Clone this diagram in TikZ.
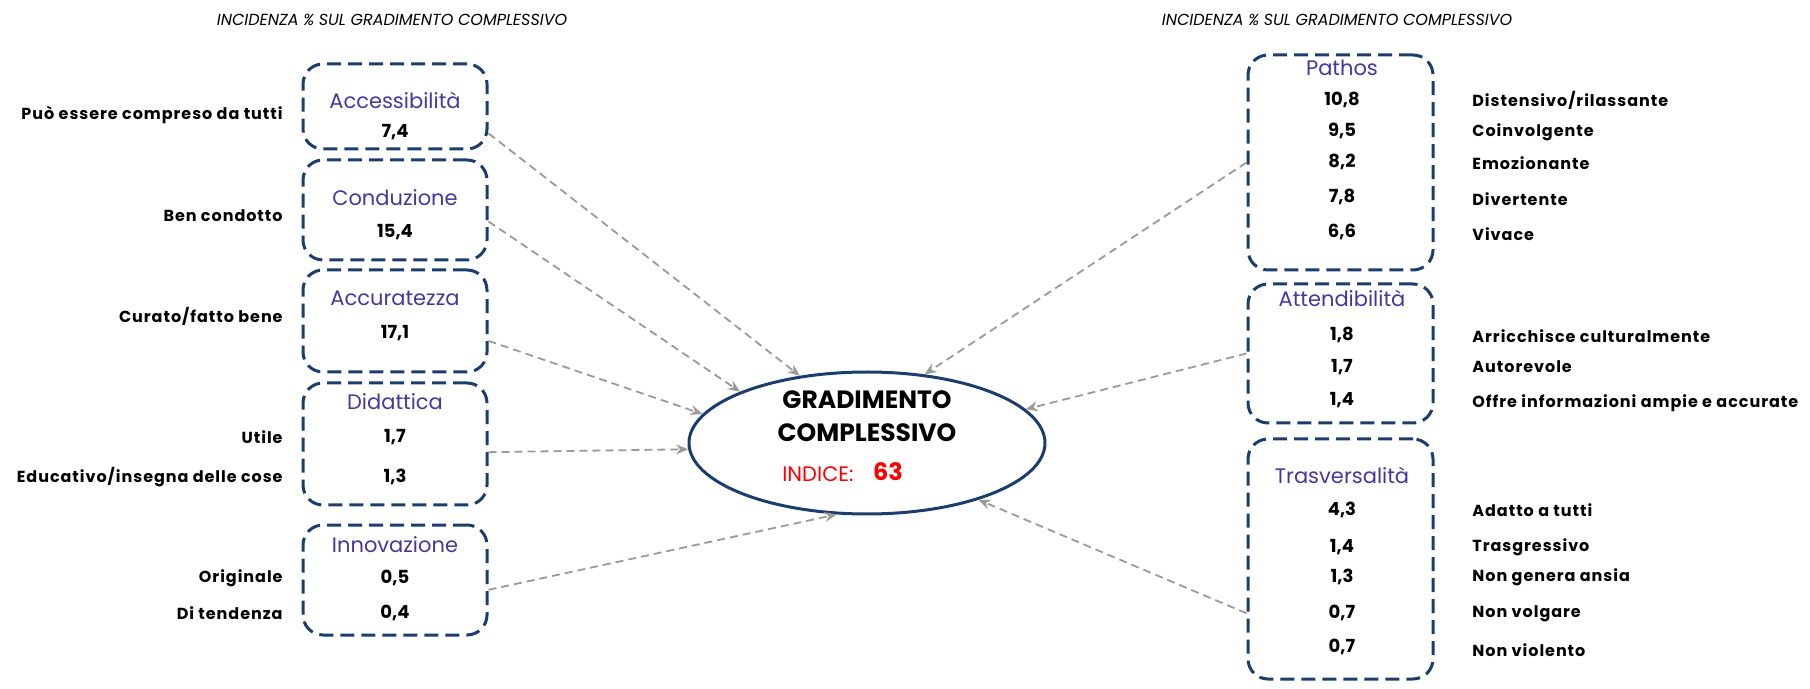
\documentclass[tikz,border=0pt]{standalone}
\usepackage{fontspec}
\setmainfont{Poppins}
\usetikzlibrary{arrows.meta,shapes.geometric}
\definecolor{boxblue}{HTML}{1B3D6D}
\definecolor{titleblue}{HTML}{4438A0}
\definecolor{linkgray}{HTML}{9A9A9A}
\definecolor{indexred}{HTML}{FF0000}

\begin{document}
\begin{tikzpicture}[
    x=0.5pt, y=-0.5pt,
    every node/.style={inner sep=0pt},
    factor/.style={draw=boxblue, line width=1.5pt, dash pattern=on 7pt off 3.5pt,
      rounded corners=10pt, minimum width=92pt},
    ftitle/.style={text=titleblue, font=\fontsize{10.5}{12}\selectfont},
    fvalue/.style={font=\bfseries\fontsize{9}{11}\selectfont},
    item/.style={font=\bfseries\fontsize{8}{10}\selectfont\addfontfeatures{LetterSpace=6}},
    header/.style={font=\itshape\fontsize{8}{9}\selectfont},
    gctext/.style={font=\bfseries\fontsize{12.5}{14}\selectfont},
    link/.style={draw=linkgray, line width=0.9pt, dash pattern=on 4pt off 2.5pt,
      -{Stealth[length=6pt,width=5pt,inset=2pt]}}
  ]
  \useasboundingbox (0,0) rectangle (1810,689);

  % headers
  \node[header] (hl) at (392,20) {INCIDENZA \% SUL GRADIMENTO COMPLESSIVO};
  \node[header] (hr) at (1337,20) {INCIDENZA \% SUL GRADIMENTO COMPLESSIVO};

  % centre
  \node[draw=boxblue, line width=1.5pt, ellipse, minimum width=178pt, minimum height=71pt] (gc) at (867,443) {};
  \node[gctext] (gc-a) at (867,400) {GRADIMENTO};
  \node[gctext] (gc-b) at (867,433) {COMPLESSIVO};
  \node[text=indexred, font=\fontsize{10.5}{12}\selectfont] (gc-i) at (818,474) {INDICE:};
  \node[text=indexred, font=\bfseries\fontsize{12}{14}\selectfont] (gc-n) at (888,472) {63};

  % left factors
  \node[factor, minimum height=42.5pt] (acc) at (395,106.5) {};
  \node[ftitle] (acc-t) at (395,100) {Accessibilità};
  \node[fvalue] (acc-1) at (395,132) {7,4};
  \node[item, anchor=east] (acc-l1) at (283,115) {Può essere compreso da tutti};

  \node[factor, minimum height=50pt] (con) at (395,210) {};
  \node[ftitle] (con-t) at (395,198) {Conduzione};
  \node[fvalue] (con-1) at (395,232) {15,4};
  \node[item, anchor=east] (con-l1) at (283,216) {Ben condotto};

  \node[factor, minimum height=51pt] (acu) at (395,321) {};
  \node[ftitle] (acu-t) at (395,298) {Accuratezza};
  \node[fvalue] (acu-1) at (395,333) {17,1};
  \node[item, anchor=east] (acu-l1) at (283,316) {Curato/fatto bene};

  \node[factor, minimum height=61pt] (did) at (395,444) {};
  \node[ftitle] (did-t) at (395,402) {Didattica};
  \node[fvalue] (did-1) at (395,437) {1,7};
  \node[fvalue] (did-2) at (395,477) {1,3};
  \node[item, anchor=east] (did-l1) at (283,437) {Utile};
  \node[item, anchor=east] (did-l2) at (283,477) {Educativo/insegna delle cose};

  \node[factor, minimum height=55pt] (inn) at (395,580) {};
  \node[ftitle] (inn-t) at (395,545) {Innovazione};
  \node[fvalue] (inn-1) at (395,578) {0,5};
  \node[fvalue] (inn-2) at (395,613) {0,4};
  \node[item, anchor=east] (inn-l1) at (283,578) {Originale};
  \node[item, anchor=east] (inn-l2) at (283,613) {Di tendenza};

  % right factors
  \node[factor, minimum width=92.5pt, minimum height=107.5pt] (pat) at (1340.5,162.5) {};
  \node[ftitle] (pat-t) at (1342,68) {Pathos};
  \node[fvalue] (pat-1) at (1342,100) {10,8};
  \node[fvalue] (pat-2) at (1342,131) {9,5};
  \node[fvalue] (pat-3) at (1342,162) {8,2};
  \node[fvalue] (pat-4) at (1342,197) {7,8};
  \node[fvalue] (pat-5) at (1342,232) {6,6};
  \node[item, anchor=west] (pat-l1) at (1472,100) {Distensivo/rilassante};
  \node[item, anchor=west] (pat-l2) at (1472,132) {Coinvolgente};
  \node[item, anchor=west] (pat-l3) at (1472,163) {Emozionante};
  \node[item, anchor=west] (pat-l4) at (1472,199) {Divertente};
  \node[item, anchor=west] (pat-l5) at (1472,234) {Vivace};

  \node[factor, minimum width=92.5pt, minimum height=69.5pt] (att) at (1340.5,353.5) {};
  \node[ftitle] (att-t) at (1342,298) {Attendibilità};
  \node[fvalue] (att-1) at (1342,335) {1,8};
  \node[fvalue] (att-2) at (1342,367) {1,7};
  \node[fvalue] (att-3) at (1342,400) {1,4};
  \node[item, anchor=west] (att-l1) at (1472,336) {Arricchisce culturalmente};
  \node[item, anchor=west] (att-l2) at (1472,367) {Autorevole};
  \node[item, anchor=west] (att-l3) at (1472,403) {Offre informazioni ampie e accurate};

  \node[factor, minimum width=92.5pt, minimum height=120pt] (tra) at (1340.5,559) {};
  \node[ftitle] (tra-t) at (1342,475) {Trasversalità};
  \node[fvalue] (tra-1) at (1342,510) {4,3};
  \node[fvalue] (tra-2) at (1342,547) {1,4};
  \node[fvalue] (tra-3) at (1342,577) {1,3};
  \node[fvalue] (tra-4) at (1342,613) {0,7};
  \node[fvalue] (tra-5) at (1342,647) {0,7};
  \node[item, anchor=west] (tra-l1) at (1472,510) {Adatto a tutti};
  \node[item, anchor=west] (tra-l2) at (1472,547) {Trasgressivo};
  \node[item, anchor=west] (tra-l3) at (1472,577) {Non genera ansia};
  \node[item, anchor=west] (tra-l4) at (1472,614) {Non volgare};
  \node[item, anchor=west] (tra-l5) at (1472,650) {Non violento};

  % links
  \draw[link] (acc.-16) -- (gc.135);
  \draw[link] (con.-7) -- (gc.158);
  \draw[link] (acu.-12) -- (gc.170);
  \draw[link] (did.-5) -- (gc.182);
  \draw[link] (inn.-6) -- (gc.247);
  \draw[link] (pat.west) -- (gc.50);
  \draw[link] (att.west) -- (gc.12);
  \draw[link] (tra.210) -- (gc.-27);
\end{tikzpicture}
\end{document}
